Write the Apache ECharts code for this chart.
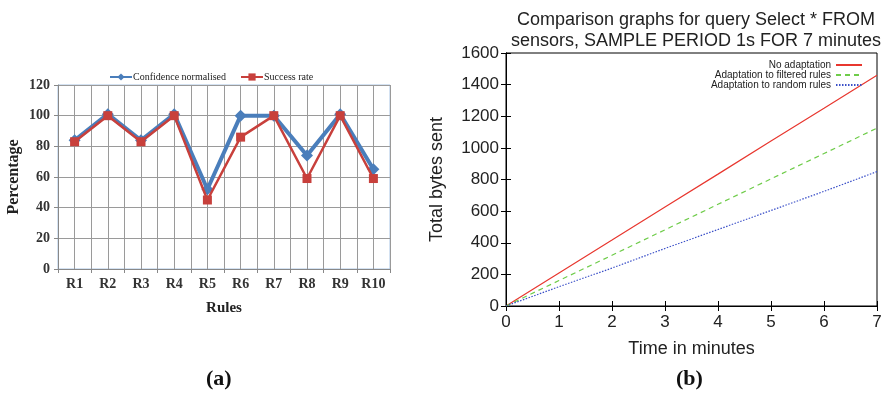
<!DOCTYPE html>
<html><head><meta charset="utf-8">
<script src="https://cdn.jsdelivr.net/npm/echarts@6/dist/echarts.min.js"></script>
<style>html,body{margin:0;padding:0;background:#fff}#c{width:886px;height:397px}</style>
</head><body><div id="c"></div>
<script>
// ---- Chart (a) data ----
var rules = ['R1','R2','R3','R4','R5','R6','R7','R8','R9','R10'];
var confidenceNormalised = [84, 101, 84, 101, 52, 100, 100, 74, 101, 65];
var successRate = [83, 100, 83, 100, 45, 86, 100, 59, 100, 59];
var halfSlots = ['','','','','','','','','','','','','','','','','','','',''];

// ---- Chart (b) data ----
var minutes = [0, 1, 2, 3, 4, 5, 6, 7];
var noAdaptation = [0, 209, 417, 626, 834, 1043, 1251, 1460];
var filteredRules = [0, 161, 321, 482, 643, 804, 964, 1125];
var randomRules = [0, 122, 240, 364, 484, 604, 725, 850];

function pairs(xs, ys){ return xs.map(function(x,i){ return [x, ys[i]]; }); }

var serif = 'Liberation Serif';
var sans = 'Liberation Sans';

var chart = echarts.init(document.getElementById('c'), null, {renderer:'canvas'});
chart.setOption({
  animation: false,
  backgroundColor: '#fff',
  title: [{
    text: 'Comparison graphs for query Select * FROM\nsensors, SAMPLE PERIOD 1s FOR 7 minutes',
    left: 691, top: 5, textAlign: 'center',
    textStyle: {fontFamily: sans, fontSize: 18, fontWeight: 'normal', color: '#222', lineHeight: 21}
  }],
  legend: [{
    data: ['Confidence normalised', 'Success rate'],
    left: 104, top: 67, itemWidth: 22, itemHeight: 9, itemGap: 14,
    textStyle: {fontFamily: serif, fontSize: 10, color: '#222', padding: [0,0,0,-4]}
  }, {
    data: ['No adaptation', 'Adaptation to filtered rules', 'Adaptation to random rules'],
    orient: 'vertical', align: 'right', right: 18, top: 55, itemWidth: 26, itemHeight: 4, itemGap: 0,
    itemStyle: {opacity: 0},
    textStyle: {fontFamily: sans, fontSize: 10, color: '#222', lineHeight: 10}
  }],
  grid: [
    {left: 58, top: 85, width: 332, height: 184, show: true, borderColor: '#a9c4e4', borderWidth: 1, backgroundColor: '#fff'},
    {left: 506, top: 53, width: 371, height: 253, show: true, borderColor: '#000', borderWidth: 1, backgroundColor: '#fff'}
  ],
  xAxis: [
    {gridIndex: 0, type: 'category', data: rules, boundaryGap: true,
     name: 'Rules', nameLocation: 'middle', nameGap: 32,
     nameTextStyle: {fontFamily: serif, fontSize: 15, fontWeight: 'bold', color: '#222'},
     axisLine: {lineStyle: {color: '#888'}},
     axisTick: {show: true, length: 4, lineStyle: {color: '#888'}},
     axisLabel: {fontFamily: serif, fontSize: 14, fontWeight: 'bold', color: '#333', margin: 8},
     splitLine: {show: false}, z: 3},
    {gridIndex: 0, type: 'category', data: halfSlots, boundaryGap: true, position: 'bottom',
     axisLine: {show: false}, axisTick: {show: false}, axisLabel: {show: false},
     splitLine: {show: true, lineStyle: {color: '#9a9a9a', width: 1}}},
    {gridIndex: 1, type: 'value', min: 0, max: 7, interval: 1,
     name: 'Time in minutes', nameLocation: 'middle', nameGap: 34,
     nameTextStyle: {fontFamily: sans, fontSize: 18, color: '#222'},
     axisLine: {lineStyle: {color: '#000', width: 1}},
     axisTick: {inside: true, length: 5, lineStyle: {color: '#000'}},
     axisLabel: {fontFamily: sans, fontSize: 17, color: '#222', margin: 8},
     splitLine: {show: false}},
    {gridIndex: 1, type: 'value', min: 0, max: 7, interval: 1, position: 'top',
     axisLine: {lineStyle: {color: '#000', width: 1}},
     axisTick: {inside: true, length: 5, lineStyle: {color: '#000'}},
     axisLabel: {show: false}, splitLine: {show: false}}
  ],
  yAxis: [
    {gridIndex: 0, type: 'value', min: 0, max: 120, interval: 20,
     name: 'Percentage', nameLocation: 'middle', nameGap: 36,
     nameTextStyle: {fontFamily: serif, fontSize: 16, fontWeight: 'bold', color: '#222'},
     axisLine: {show: true, lineStyle: {color: '#888'}},
     axisTick: {show: true, length: 4, lineStyle: {color: '#888'}},
     axisLabel: {fontFamily: serif, fontSize: 14, fontWeight: 'bold', color: '#333', margin: 8},
     splitLine: {show: true, lineStyle: {color: '#9a9a9a', width: 1}}},
    {gridIndex: 1, type: 'value', min: 0, max: 1600, interval: 200,
     name: 'Total bytes sent', nameLocation: 'middle', nameGap: 60,
     nameTextStyle: {fontFamily: sans, fontSize: 18, color: '#222'},
     axisLine: {show: true, lineStyle: {color: '#000', width: 1}},
     axisTick: {show: true, inside: true, length: 5, lineStyle: {color: '#000'}},
     axisLabel: {fontFamily: sans, fontSize: 17, color: '#222', margin: 7,
                 formatter: function(v){ return String(v); }},
     splitLine: {show: false}},
    {gridIndex: 1, type: 'value', min: 0, max: 1600, interval: 200, position: 'right',
     axisLine: {show: true, lineStyle: {color: '#000', width: 1}},
     axisTick: {show: true, inside: true, length: 5, lineStyle: {color: '#000'}},
     axisLabel: {show: false}, splitLine: {show: false}}
  ],
  series: [
    {name: 'Confidence normalised', type: 'line', xAxisIndex: 0, yAxisIndex: 0,
     data: confidenceNormalised, symbol: 'diamond', symbolSize: 12,
     lineStyle: {color: '#4a7ebb', width: 4}, itemStyle: {color: '#4a7ebb'}, z: 3},
    {name: 'Success rate', type: 'line', xAxisIndex: 0, yAxisIndex: 0,
     data: successRate, symbol: 'rect', symbolSize: 9,
     lineStyle: {color: '#c8403c', width: 2.5}, itemStyle: {color: '#c8403c'}, z: 4},
    {name: 'No adaptation', type: 'line', xAxisIndex: 2, yAxisIndex: 1,
     data: pairs(minutes, noAdaptation), symbol: 'none',
     lineStyle: {color: '#e8372f', width: 1.2, type: 'solid'}, itemStyle: {color: '#e8372f'}},
    {name: 'Adaptation to filtered rules', type: 'line', xAxisIndex: 2, yAxisIndex: 1,
     data: pairs(minutes, filteredRules), symbol: 'none',
     lineStyle: {color: '#6fcc4a', width: 1.2, type: [5, 4]}, itemStyle: {color: '#6fcc4a'}},
    {name: 'Adaptation to random rules', type: 'line', xAxisIndex: 2, yAxisIndex: 1,
     data: pairs(minutes, randomRules), symbol: 'none',
     lineStyle: {color: '#3a4fc8', width: 1.2, type: [1.5, 1.5]}, itemStyle: {color: '#3a4fc8'}}
  ],
  graphic: [
    {type: 'text', left: 206, top: 368, style: {text: '(a)', font: 'bold 22px "Liberation Serif"', fill: '#111'}},
    {type: 'text', left: 676, top: 368, style: {text: '(b)', font: 'bold 22px "Liberation Serif"', fill: '#111'}}
  ]
});
</script></body></html>
